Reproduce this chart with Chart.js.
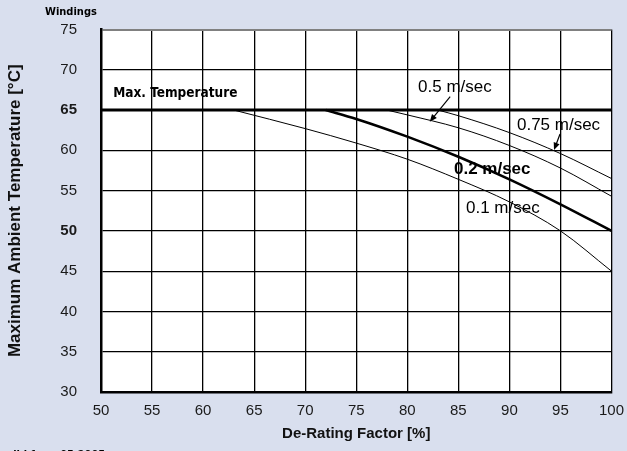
<!DOCTYPE html>
<html>
<head>
<meta charset="utf-8">
<script src="https://cdn.jsdelivr.net/npm/chart.js@4.4.1/dist/chart.umd.min.js"></script>
<style>
  html, body { margin: 0; padding: 0; background: #d9dfee; }
</style>
</head>
<body>
<canvas id="myChart" width="627" height="451"></canvas>
<script>
// tick labels
const xTicks = [50, 55, 60, 65, 70, 75, 80, 85, 90, 95, 100];
const yTicks = [30, 35, 40, 45, 50, 55, 60, 65, 70, 75];
const boldYTicks = [50, 65];

// max temperature line
const maxTempX = [50, 100];
const maxTempY = [65, 65];

// de-rating curves per air speed
const v01X = [63, 70, 75, 80, 85, 90, 95, 100];
const v01Y = [65, 62.7, 60.9, 58.9, 56.4, 53.6, 50.0, 45];

const v02X = [72, 75, 80, 85, 90, 95, 100];
const v02Y = [65, 63.9, 61.7, 59.2, 56.4, 53.3, 50];

const v05X = [78, 80, 85, 90, 95, 100];
const v05Y = [65, 64.4, 62.8, 60.6, 57.8, 54.3];

const v075X = [83, 85, 90, 95, 100];
const v075Y = [65, 64.3, 62.2, 59.6, 56.5];

const BG = "#d9dfee";
const FONT = "'Liberation Sans', Arial, sans-serif";
const NARROW = "'Liberation Sans Narrow', 'DejaVu Sans Condensed', sans-serif";

function pts(xs, ys) {
    return xs.map((x, i) => ({ x: x, y: ys[i] }));
}

// labels placed in data units
const notes = [
    { text: "0.5 m/sec", x: 81.05, y: 67.8, bold: false },
    { text: "0.75 m/sec", x: 90.74, y: 63.1, bold: false },
    { text: "0.2 m/sec", x: 84.57, y: 57.6, bold: true },
    { text: "0.1 m/sec", x: 85.75, y: 52.85, bold: false },
];
const arrows = [
    { from: [84.2, 66.66], to: [82.2, 63.56] },
    { from: [94.96, 62.03], to: [94.37, 60.05] },
];

const bgPlugin = {
    id: "bg",
    beforeDraw(chart) {
        const { ctx, chartArea: a } = chart;
        ctx.save();
        ctx.fillStyle = BG;
        ctx.fillRect(0, 0, chart.width, chart.height);
        ctx.fillStyle = "#ffffff";
        ctx.fillRect(a.left, a.top, a.right - a.left, a.bottom - a.top);
        ctx.restore();
    },
};

const notePlugin = {
    id: "notes",
    afterDraw(chart) {
        const { ctx } = chart;
        const sx = chart.scales.x, sy = chart.scales.y;
        ctx.save();
        ctx.fillStyle = "#000";
        ctx.textBaseline = "middle";
        ctx.textAlign = "left";
        notes.forEach((n) => {
            ctx.font = (n.bold ? "bold " : "") + "17px " + FONT;
            ctx.fillText(n.text, sx.getPixelForValue(n.x), sy.getPixelForValue(n.y));
        });

        ctx.font = "bold 13.5px " + NARROW;
        ctx.fillText("Max. Temperature", sx.getPixelForValue(51.2), sy.getPixelForValue(67.0));

        ctx.font = "bold 11px " + NARROW;
        ctx.fillText("Windings", 45, 12);
        ctx.textBaseline = "alphabetic";
        ctx.fillText("valid from 05.2005", 0, 458);

        ctx.strokeStyle = "#000";
        ctx.lineWidth = 1.2;
        arrows.forEach((a) => {
            const x1 = sx.getPixelForValue(a.from[0]), y1 = sy.getPixelForValue(a.from[1]);
            const x2 = sx.getPixelForValue(a.to[0]), y2 = sy.getPixelForValue(a.to[1]);
            const ang = Math.atan2(y2 - y1, x2 - x1);
            ctx.beginPath();
            ctx.moveTo(x1, y1);
            ctx.lineTo(x2 - 5 * Math.cos(ang), y2 - 5 * Math.sin(ang));
            ctx.stroke();
            ctx.beginPath();
            ctx.moveTo(x2, y2);
            ctx.lineTo(x2 - 8 * Math.cos(ang - 0.4), y2 - 8 * Math.sin(ang - 0.4));
            ctx.lineTo(x2 - 8 * Math.cos(ang + 0.4), y2 - 8 * Math.sin(ang + 0.4));
            ctx.closePath();
            ctx.fill();
        });
        ctx.restore();
    },
};

document.addEventListener("DOMContentLoaded", function () {
    const ctx = document.getElementById("myChart");

    const curve = (label, xs, ys, w) => ({
        label: label,
        data: pts(xs, ys),
        borderColor: "#000",
        borderWidth: w,
        pointRadius: 0,
        fill: false,
        cubicInterpolationMode: "monotone",
    });

    new Chart(ctx, {
        type: "line",
        data: {
            datasets: [
                { ...curve("Max. Temperature", maxTempX, maxTempY, 3), cubicInterpolationMode: "default", tension: 0 },
                curve("0.1 m/sec", v01X, v01Y, 1),
                curve("0.2 m/sec", v02X, v02Y, 2.6),
                curve("0.5 m/sec", v05X, v05Y, 1),
                curve("0.75 m/sec", v075X, v075Y, 1),
            ],
        },
        options: {
            responsive: false,
            animation: false,
            layout: { padding: { left: 0, right: 15.5, top: 29.5, bottom: 0 } },
            plugins: {
                legend: { display: false },
                tooltip: { enabled: false },
            },
            scales: {
                x: {
                    type: "linear",
                    min: 50,
                    max: 100,
                    afterBuildTicks: (s) => { s.ticks = xTicks.map((v) => ({ value: v })); },
                    afterFit: (s) => {
                        s.height = 59;
                        s.paddingLeft = 0;
                        s.paddingRight = 0;
                    },
                    grid: { color: "#000", lineWidth: 1.3, drawTicks: false },
                    border: { color: "#000", width: 2.5 },
                    ticks: {
                        padding: 10,
                        color: "#1a1a1a",
                        maxRotation: 0,
                        font: { family: FONT, size: 15 },
                    },
                    title: {
                        display: true,
                        text: "De-Rating Factor [%]",
                        color: "#111",
                        padding: { bottom: 8 },
                        font: { family: FONT, size: 15, weight: "bold" },
                    },
                },
                y: {
                    min: 30,
                    max: 75,
                    afterBuildTicks: (s) => { s.ticks = yTicks.map((v) => ({ value: v })); },
                    afterFit: (s) => {
                        s.width = 101;
                        s.paddingTop = 0;
                        s.paddingBottom = 0;
                    },
                    grid: {
                        color: (c) => (c.tick && c.tick.value === 75 ? "#808080" : "#000"),
                        lineWidth: (c) => (c.tick && c.tick.value === 75 ? 2 : 1.3),
                        drawTicks: false,
                    },
                    border: { color: "#000", width: 2.5 },
                    ticks: {
                        padding: 24,
                        color: "#1a1a1a",
                        font: (c) => ({
                            family: FONT,
                            size: 15,
                            weight: boldYTicks.includes(c.tick && c.tick.value) ? "bold" : "normal",
                        }),
                    },
                    title: {
                        display: true,
                        text: "Maximum Ambient Temperature [°C]",
                        color: "#111",
                        padding: { top: 4.8 },
                        font: { family: FONT, size: 17, weight: "bold" },
                    },
                },
            },
        },
        plugins: [bgPlugin, notePlugin],
    });
});
</script>
</body>
</html>
